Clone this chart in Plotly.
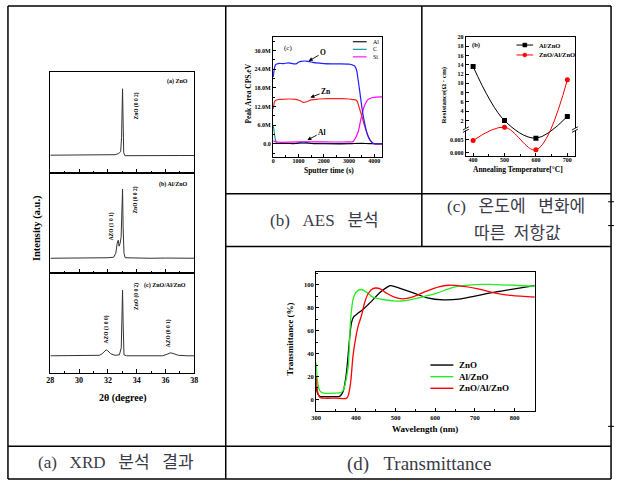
import plotly.graph_objects as go

W, H = 618, 483
def PX(x): return x / W
def PY(y): return 1 - y / H

SERIF = "Liberation Serif, Times New Roman, serif"
CAPF = "Liberation Serif, Noto Sans CJK KR, sans-serif"

# ---------------- data ----------------
# (a) XRD, normalised intensity inside each stacked panel
xrd_ticks = [28, 30, 32, 34, 36, 38]
xrd_a_x = [28, 29, 30, 31, 32, 32.5, 32.73, 32.89, 32.95, 33.0, 33.02, 33.06, 33.1, 33.18, 34, 35, 36, 37, 38]
xrd_a_y = [0.175, 0.176, 0.175, 0.177, 0.178, 0.18, 0.19, 0.21, 0.35, 0.75, 0.83, 0.5, 0.2, 0.17, 0.172, 0.172, 0.174, 0.172, 0.172]
xrd_b_x = [28, 29, 30, 31, 32, 32.4, 32.55, 32.65, 32.72, 32.78, 32.85, 32.92, 32.98, 33.02, 33.06, 33.12, 33.2, 34, 35, 36, 37, 38]
xrd_b_y = [0.15, 0.15, 0.152, 0.152, 0.155, 0.16, 0.2, 0.3, 0.33, 0.27, 0.3, 0.36, 0.7, 0.84, 0.45, 0.2, 0.155, 0.152, 0.15, 0.152, 0.15, 0.15]
xrd_c_x = [28, 29, 30, 31, 31.4, 31.6, 31.75, 31.88, 32.0, 32.2, 32.5, 32.8, 32.93, 32.98, 33.02, 33.06, 33.12, 33.3, 34, 35, 35.8, 36.1, 36.36, 36.6, 36.9, 37.5, 38]
xrd_c_y = [0.17, 0.17, 0.172, 0.172, 0.175, 0.19, 0.215, 0.23, 0.22, 0.19, 0.175, 0.18, 0.25, 0.6, 0.83, 0.5, 0.18, 0.17, 0.168, 0.168, 0.17, 0.185, 0.2, 0.19, 0.175, 0.17, 0.17]

# (b) AES depth profile, sputter time (s) vs peak area (M CPS.eV)
aes_names = ["Al", "C", "Si"]
aes_o_t = [0, 50, 100, 200, 400, 600, 800, 900, 1000, 1100, 1300, 1500, 1700, 2000, 2500, 3000, 3150, 3220, 3290, 3350, 3420, 3480, 3550, 3610, 3680, 3740, 3840, 3940, 4050, 4320]
aes_o_v = [21.5, 24.5, 25.5, 25.8, 25.8, 26.0, 25.7, 25.7, 26.2, 26.5, 26.6, 26.3, 26.0, 25.8, 25.7, 25.6, 25.3, 25.0, 23.9, 21.0, 17.0, 13.3, 9.5, 6.9, 4.3, 2.7, 1.0, 0.2, 0.0, 0.0]
aes_zn_t = [0, 50, 100, 300, 600, 900, 1050, 1200, 1350, 1500, 1800, 2200, 2700, 3000, 3150, 3288, 3418, 3520, 3613, 3743, 3873, 4000, 4320]
aes_zn_v = [11.2, 13.5, 14.0, 14.3, 14.4, 14.3, 13.9, 13.3, 13.6, 14.1, 14.4, 14.5, 14.5, 14.4, 14.2, 14.0, 11.2, 8.5, 5.8, 2.7, 0.8, 0.0, 0.0]
aes_si_t = [0, 100, 1000, 2000, 3000, 3157, 3250, 3353, 3483, 3613, 3743, 3938, 4320]
aes_si_v = [1.0, 0.6, 0.6, 0.6, 0.6, 0.7, 1.8, 3.7, 8.5, 12.3, 14.2, 14.9, 15.1]
aes_c_t = [0, 50, 100, 150, 300, 1000, 2000, 3000, 4000, 4320]
aes_c_v = [5.9, 3.0, 0.8, 0.2, 0.1, 0.1, 0.1, 0.1, 0.1, 0.1]
aes_al_t = [0, 500, 900, 1000, 1150, 1300, 1450, 1600, 2000, 3000, 3200, 3500, 3800, 4320]
aes_al_v = [0.1, 0.1, 0.1, 0.3, 0.5, 0.45, 0.2, 0.05, 0.0, 0.0, 0.1, 0.15, 0.05, 0.0]
aes_y_ticks = [0, 6, 12, 18, 24, 30]
aes_y_labels = ["0.0", "6.0M", "12.0M", "18.0M", "24.0M", "30.0M"]
aes_x_ticks = [0, 1000, 2000, 3000, 4000]

# (c) resistance vs annealing temperature
res_names = ["Al/ZnO", "ZnO/Al/ZnO"]
res_temp = [400, 500, 600, 700]
res_al = [13.6, 2.0, 0.0055, 2.9]
res_tri = [0.0046, 0.58, 0.0011, 10.75]
res_upper_ticks = [2, 4, 6, 8, 10, 12, 14, 16, 18, 20]
res_lower_ticks = [0.000, 0.005]

# (d) transmittance
tr_names = ["ZnO", "Al/ZnO", "ZnO/Al/ZnO"]
tr_zno_wl = [300, 304, 310, 320, 340, 358, 362, 368, 373, 377, 381, 384, 387, 390, 395, 402, 420, 440, 460, 480, 487, 500, 550, 580, 620, 660, 700, 750, 800, 850]
tr_zno_t = [12, 5, 2.6, 2.5, 2.5, 2.6, 3.5, 7, 15, 25, 40, 52, 62, 68, 72, 74, 79, 85.6, 92.8, 98, 99, 98, 92, 88.5, 86.7, 87.3, 90, 93.4, 96.3, 99]
tr_alzno_wl = [300, 304, 309, 319, 340, 364, 369, 373, 377, 381, 384, 387, 390, 394, 402, 414, 427, 443, 468, 501, 526, 559, 600, 650, 700, 749, 799, 851]
tr_alzno_t = [32, 15, 7.8, 5.5, 5.5, 6.3, 8.6, 13, 20, 29, 48, 70, 80, 88.5, 94, 95.7, 93.4, 89, 87, 85.6, 86, 88.5, 92, 98, 100, 100, 99.4, 98.5]
tr_tri_wl = [300, 304, 309, 320, 350, 377, 381, 387, 393, 400, 406, 414, 422, 431, 443, 451, 460, 476, 497, 518, 542, 576, 609, 634, 667, 708, 749, 791, 851]
tr_tri_t = [20.7, 6.3, 2, 1.2, 1.2, 1.2, 3.5, 15, 38, 54, 64, 72.6, 84, 92, 96.5, 97, 96.5, 92.8, 89, 87.6, 89, 94, 98, 99.4, 98.6, 96.3, 92.8, 90.5, 89]

# ---------------- display transform for broken resistance axis ----------------
BREAK = 0.1
LOW0 = -4.91      # display value of 0.000
LOWSTEP = 2.86    # display units per 0.005
def to_disp(v):
    return v if v >= BREAK else LOW0 + v / 0.005 * LOWSTEP

fig = go.Figure()

def add_line(x, y, xa, ya, color, width=1.2, shape="linear", marker=None):
    kw = dict(x=x, y=y, xaxis=xa, yaxis=ya, mode="lines", showlegend=False,
              hoverinfo="skip", line=dict(color=color, width=width, shape=shape))
    if marker:
        kw["mode"] = "lines+markers"
        kw["marker"] = marker
    fig.add_trace(go.Scatter(**kw))

# XRD
add_line(xrd_a_x, xrd_a_y, "x", "y", "#333", 1)
add_line(xrd_b_x, xrd_b_y, "x2", "y2", "#333", 1)
add_line(xrd_c_x, xrd_c_y, "x3", "y3", "#333", 1)
# AES
add_line(aes_c_t, aes_c_v, "x4", "y4", "#009090", 1.1, "spline")
add_line(aes_al_t, aes_al_v, "x4", "y4", "#000000", 1.1, "spline")
add_line(aes_si_t, aes_si_v, "x4", "y4", "#ff00ff", 1.2, "spline")
add_line(aes_zn_t, aes_zn_v, "x4", "y4", "#ff2020", 1.2, "spline")
add_line(aes_o_t, aes_o_v, "x4", "y4", "#2020ff", 1.2, "spline")
# Resistance
add_line(res_temp, [to_disp(v) for v in res_al], "x5", "y5", "black", 1, "spline",
         dict(symbol="square", size=5, color="black"))
add_line(res_temp, [to_disp(v) for v in res_tri], "x5", "y5", "#ff0000", 1, "spline",
         dict(symbol="circle", size=5, color="#ff0000"))
# Transmittance
add_line(tr_zno_wl, tr_zno_t, "x6", "y6", "black", 1.3, "spline")
add_line(tr_alzno_wl, tr_alzno_t, "x6", "y6", "#22ee22", 1.3, "spline")
add_line(tr_tri_wl, tr_tri_t, "x6", "y6", "#ff0000", 1.3, "spline")

def tfont(size=6):
    return dict(family=SERIF, size=size, color="black", weight="bold")

def axis(domain, rng, anchor, **kw):
    d = dict(domain=domain, range=rng, anchor=anchor, showline=True, linecolor="black",
             linewidth=1.2, mirror=True, showgrid=False, zeroline=False, ticks="inside",
             tickcolor="black", tickwidth=1, ticklen=3, tickfont=tfont(6), fixedrange=True)
    d.update(kw)
    return d

minor_x_xrd = dict(ticks="inside", ticklen=2, dtick=1, tickcolor="black")
xd = [PX(46), PX(192)]
fig.update_layout(
    xaxis=axis(xd, [28, 38], "y", tickvals=xrd_ticks, ticklen=4, minor=minor_x_xrd, showticklabels=False),
    yaxis=axis([PY(171), PY(69)], [0, 1], "x", ticks="", showticklabels=False),
    xaxis2=axis(xd, [28, 38], "y2", tickvals=xrd_ticks, ticklen=4, minor=minor_x_xrd, showticklabels=False),
    yaxis2=axis([PY(272), PY(171)], [0, 1], "x2", ticks="", showticklabels=False),
    xaxis3=axis(xd, [28, 38], "y3", tickvals=xrd_ticks, ticklen=4, minor=minor_x_xrd, tickfont=tfont(8)),
    yaxis3=axis([PY(372), PY(272)], [0, 1], "x3", ticks="", showticklabels=False),
    xaxis4=axis([PX(272), PX(383)], [-10, 4320], "y4", tickvals=aes_x_ticks, ticklabelstandoff=-2,
                minor=dict(ticks="inside", ticklen=2, dtick=500, tickcolor="black")),
    yaxis4=axis([PY(155), PY(34)], [-4.25, 34.4], "x4", tickvals=aes_y_ticks, ticktext=aes_y_labels,
                minor=dict(ticks="inside", ticklen=2, dtick=3, tickcolor="black")),
    xaxis5=axis([PX(467.7), PX(578.3)], [377, 724], "y5", tickvals=res_temp, ticklabelstandoff=-2,
                minor=dict(ticks="inside", ticklen=2, dtick=50, tickcolor="black")),
    yaxis5=axis([PY(154), PY(34)], [-5.61, 20], "x5",
                tickvals=[to_disp(v) for v in res_upper_ticks] + [to_disp(v) for v in res_lower_ticks],
                ticktext=[str(v) for v in res_upper_ticks] + ["%.3f" % v for v in res_lower_ticks]),
    xaxis6=axis([PX(315.7), PX(537.7)], [300, 851], "y6", tickvals=[300, 400, 500, 600, 700, 800],
                minor=dict(ticks="inside", ticklen=2, dtick=50, tickcolor="black"), tickfont=tfont(6.5)),
    yaxis6=axis([PY(411), PY(270.7)], [-10.4, 110.9], "x6", tickvals=[0, 20, 40, 60, 80, 100],
                minor=dict(ticks="inside", ticklen=2, dtick=10, tickcolor="black"), tickfont=tfont(6.5)),
)

ann = []
def text(x, y, s, size, xref="paper", yref="paper", angle=0, xanchor="center", yanchor="middle",
         family=SERIF, color="black", weight="bold"):
    ann.append(dict(x=x, y=y, xref=xref, yref=yref, text=s, showarrow=False, textangle=angle,
                    xanchor=xanchor, yanchor=yanchor,
                    font=dict(family=family, size=size, color=color, weight=weight)))

# XRD texts
text(PX(32), PY(227), "Intensity (a.u.)", 10.5, angle=-90)
text(PX(119.5), PY(397), "2θ (degree)", 10)
text(PX(188), PY(79), "(a) ZnO", 6, xanchor="right")
text(PX(188), PY(182.3), "(b) Al/ZnO", 6, xanchor="right")
text(PX(186), PY(284), "(c) ZnO/Al/ZnO", 6, xanchor="right")
text(33.96, (171 - 104) / 102, "ZnO (0 0 2)", 5.5, xref="x", yref="y", angle=-90)
text(33.94, (272 - 198) / 101, "ZnO (0 0 2)", 5.5, xref="x2", yref="y2", angle=-90)
text(32.27, (272 - 225) / 101, "AZO (1 0 1)", 5.5, xref="x2", yref="y2", angle=-90)
text(33.94, (372 - 295) / 100, "ZnO (0 0 2)", 5.5, xref="x3", yref="y3", angle=-90)
text(31.97, (372 - 328) / 100, "AZO (1 0 0)", 5.5, xref="x3", yref="y3", angle=-90)
text(36.27, (372 - 332) / 100, "AZO (0 0 1)", 5.5, xref="x3", yref="y3", angle=-90)

# AES texts
text(PX(329), PY(168.5), "Sputter time (s)", 7.5)
text(PX(246.7), PY(91), "Peak Area CPS.eV", 7.5, angle=-90)
text(PX(287), PY(45), "(c)", 7, weight="normal")
for lab, tip, tail in [("O", (1398, 26.6), (1973, 29.3)),
                       ("Zn", (1465, 14.9), (2090, 16.8)),
                       ("Al", (1348, 1.2), (1934, 3.7))]:
    ann.append(dict(x=tip[0], y=tip[1], xref="x4", yref="y4", ax=tail[0], ay=tail[1],
                    axref="x4", ayref="y4", text=lab, showarrow=True, arrowhead=2,
                    arrowsize=0.9, arrowwidth=0.9, arrowcolor="black",
                    font=dict(family=SERIF, size=7.5, color="black", weight="bold")))

# Resistance texts
text(PX(445), PY(92.5), "Resistance(Ω · cm)", 7, angle=-90)
text(PX(521), PY(167.5), "Annealing Temperature[°C]", 7.5)
text(PX(478), PY(42), "(b)", 6.5)

# Transmittance texts
text(PX(289), PY(338), "Transmittance (%)", 9, angle=-90)
text(PX(426.7), PY(429), "Wavelength (nm)", 9)

shapes = []
def seg(x0, y0, x1, y1, color="black", width=1.5):
    shapes.append(dict(type="line", xref="paper", yref="paper", x0=PX(x0), y0=PY(y0),
                       x1=PX(x1), y1=PY(y1), line=dict(color=color, width=width)))

# manual legends
aes_leg_colors = ["#000000", "#009090", "#ff00ff"]
for i, (nm, c) in enumerate(zip(aes_names, aes_leg_colors)):
    yy = 39 + i * 7.6
    seg(353, yy, 367, yy, c, 1.1)
    text(PX(371), PY(yy), nm, 6, xanchor="left", weight="normal")

res_leg_colors = ["black", "#ff0000"]
for i, (nm, c) in enumerate(zip(res_names, res_leg_colors)):
    yy = 42.3 + i * 10
    seg(519, yy, 536, yy, c, 1)
    shapes.append(dict(type="rect" if i == 0 else "circle", xref="paper", yref="paper",
                       x0=PX(525.5), x1=PX(529.5), y0=PY(yy + 2), y1=PY(yy - 2),
                       fillcolor=c, line=dict(color=c, width=0.5)))
    text(PX(540), PY(yy), nm, 6.5, xanchor="left")

tr_leg_colors = ["black", "#22ee22", "#ff0000"]
for i, (nm, c) in enumerate(zip(tr_names, tr_leg_colors)):
    yy = 364.3 + i * 11.7
    seg(431.7, yy, 455, yy, c, 1.4)
    text(PX(458.5), PY(yy), nm, 9, xanchor="left")

# axis break marks on resistance plot
for sx in (467.7, 578.3):
    shapes.append(dict(type="rect", xref="paper", yref="paper", x0=PX(sx - 2), x1=PX(sx + 2),
                       y0=PY(128.3), y1=PY(125.7), fillcolor="white", line=dict(width=0)))
    seg(sx - 3, 127.8, sx + 3, 124.6, "black", 0.9)
    seg(sx - 3, 130.2, sx + 3, 127.0, "black", 0.9)

# table grid
seg(3, 3, 615, 3); seg(3, 479, 615, 479); seg(3, 3, 3, 479); seg(615, 3, 615, 479)
seg(224, 3, 224, 479); seg(423, 3, 423, 245)
seg(224, 192, 615, 192); seg(224, 245, 615, 245); seg(3, 446, 615, 446)
for ty in (200, 224, 426):
    seg(612, ty, 618, ty, "black", 1)

# captions
cap_color = "#3a3a48"
sp3 = "\u00a0\u00a0\u00a0"
sp2 = "\u00a0\u00a0"
text(PX(113), PY(462), "(a)" + sp3 + "XRD" + sp3 + "분석" + sp3 + "결과", 17, family=CAPF, color=cap_color, weight="normal")
text(PX(324), PY(219), "(b)" + sp3 + "AES" + sp3 + "분석", 17, family=CAPF, color=cap_color, weight="normal")
text(PX(519), PY(205), "(c)" + sp3 + "온도에" + sp3 + "변화에", 17, family=CAPF, color=cap_color, weight="normal")
text(PX(520), PY(232), "따른" + sp2 + "저항값", 17, family=CAPF, color=cap_color, weight="normal")
text(PX(420), PY(464), "(d)" + sp3 + "Transmittance", 19, family=CAPF, color=cap_color, weight="normal")

fig.update_layout(width=W, height=H, margin=dict(l=0, r=0, t=0, b=0),
                  paper_bgcolor="white", plot_bgcolor="white", showlegend=False,
                  annotations=ann, shapes=shapes)
fig.write_html("out.html", config={"displayModeBar": False},
               post_script="document.body.style.margin='0px';document.body.style.overflow='hidden';")
